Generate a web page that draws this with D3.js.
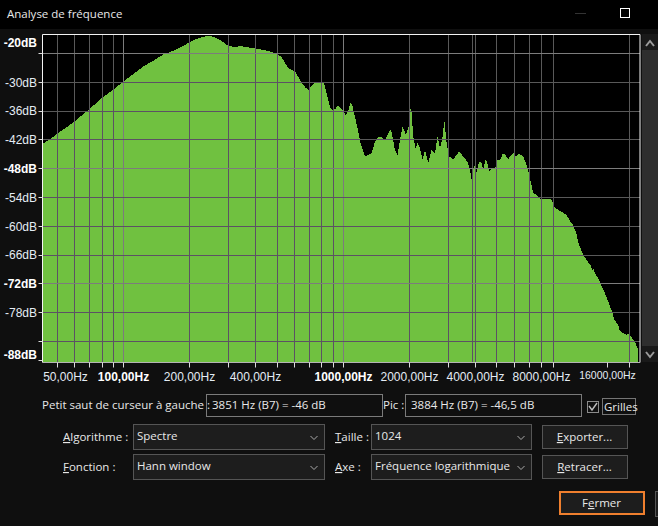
<!DOCTYPE html>
<html><head><meta charset="utf-8">
<script src="https://cdn.jsdelivr.net/npm/d3@7"></script>
<style>
html,body{margin:0;padding:0;background:#0f0f0f;overflow:hidden}
svg{display:block}
text{font-family:"Open Sans","Noto Sans",sans-serif;font-size:11.5px;fill:#e8e8e8}
.ax text{font-family:"Liberation Sans",Arial,sans-serif;font-size:12px;fill:#e4ecf4}
.b{font-weight:bold;fill:#fff!important}
</style></head><body>
<svg id="c" width="658" height="526"></svg>
<script>
const title = "Analyse de fréquence";
const freqHz = [42.9,46.3,49.6,55.1,60.4,65.7,69.9,80.1,89.9,100,110.8,123.1,136.7,151.8,171.5,187.2,202,222.9,243.2,256.3,274.8,299.9,315.8,344.8,376.3,403.6,448.1,497.7,524.4,562.2,603,635.3,669.4,693.3,710.4,735.6,769.7,817,840,870,894,916,949,972,1000,1028,1054,1080,1103,1130,1170,1199,1255,1299,1346,1393,1443,1494,1547,1586,1630,1659,1718,1767,1810,1862,1928,1983,2032,2082,2134,2171,2217,2296,2353,2436,2523,2612,2687,2753,2831,2881,2952,3035,3166,3279,3372,3516,3665,3770,3837,3945,4000,4157,4260,4335,4443,4520,4616,4730,4898,5036,5215,5307,5439,5633,5772,5934,6103,6320,6592,6825,7068,7316,7577,7850,8270,8565,8868,9087,9200,9345,9470,9680,9860,10110,10320,10600,10860,11080,11325,11500,11680,11950,12360,12670,12950,13360,13550,13740,13950,14360,15080,15780,16630,17150,17830,18080,18600,19010,19450,19760,20510,21230,21980];
const levelDb = [-42.8,-41.9,-40.8,-39.4,-38.0,-36.6,-35.6,-33.2,-31.5,-29.8,-28.3,-26.7,-25.5,-24.2,-23.3,-22.4,-21.5,-20.7,-20.3,-20.5,-21.2,-22.4,-22.6,-22.5,-22.8,-23.0,-23.4,-24.0,-24.8,-27.1,-27.7,-29.5,-31.0,-31.6,-31.0,-30.2,-30.1,-30.2,-32.3,-35.2,-35.9,-35.6,-34.8,-35.4,-36.0,-37.0,-35.8,-34.2,-35.1,-37.2,-40.3,-42.7,-45.5,-45.1,-44.8,-42.4,-41.3,-41.5,-42.0,-41.0,-39.9,-40.3,-44.1,-45.1,-42.0,-39.2,-41.0,-39.2,-34.7,-41.3,-43.8,-42.6,-43.4,-46.2,-44.0,-46.9,-44.0,-44.9,-41.2,-43.8,-41.3,-37.8,-42.7,-45.5,-46.0,-45.1,-44.4,-45.5,-46.5,-48.2,-50.3,-47.0,-49.3,-46.5,-46.9,-48.3,-46.0,-46.9,-48.6,-47.8,-48.1,-46.2,-46.0,-44.8,-45.1,-46.0,-45.3,-44.7,-45.5,-44.9,-45.5,-47.2,-50.0,-53.1,-53.5,-54.2,-54.4,-54.2,-54.5,-55.9,-56.2,-56.5,-56.4,-56.8,-57.0,-57.3,-57.6,-58.3,-59.3,-59.7,-60.8,-61.5,-63.2,-64.3,-66.0,-66.7,-67.4,-68.1,-69.3,-68.8,-69.8,-70.7,-72.7,-74.8,-77.6,-79.5,-80.6,-81.7,-82.2,-82.4,-82.6,-82.4,-83.2,-84.0,-85.8,-88.2];
const gridHz = [50,60,70,80,90,100,200,300,400,500,600,700,800,900,1000,2000,3000,4000,5000,6000,7000,8000,9000,20000];
const majorHz = [100,1000];
const cursorHz = [3884];
const xTickHz = [50,60,70,80,90,100,200,300,400,500,600,700,800,900,1000,2000,3000,4000,5000,6000,7000,8000,9000,16000,20000];
const xLabelHz = [50,100,200,400,1000,2000,4000,8000,16000];
const xBoldHz = [100,1000];
const gridDb = [-24,-30,-36,-42,-48,-54,-60,-66,-72,-78,-84];
const majorDb = [-24,-48,-72];
const yLabelDb = [-20,-30,-36,-42,-48,-54,-60,-66,-72,-78,-88];
const yBoldDb = [-20,-48,-72,-88];

const svg = d3.select("#c");
const L=42.5,R=640,T=34.5,B=362.5;
const x = d3.scaleLog().domain([100,1000]).range([123.5,343.3]);
const y = d3.scaleLinear().domain([-24,-84]).range([53.5,341.5]);
const px = v => Math.floor(v)+.5;
const fmtHz = v => d3.format(".2f")(v).replace(".",",")+"Hz";

// window chrome
svg.append("rect").attr("width",658).attr("height",526).attr("fill","#0f0f0f");
svg.append("rect").attr("width",658).attr("height",29).attr("fill","#000");
svg.append("text").attr("x",7).attr("y",18).attr("fill","#e6e6e6").style("font-size","11.5px").text(title);
svg.append("rect").attr("x",620.5).attr("y",8.5).attr("width",9).attr("height",9).attr("fill","none").attr("stroke","#fff");
svg.append("line").attr("x1",575).attr("x2",586).attr("y1",13.5).attr("y2",13.5).attr("stroke","#333");

// plot
svg.append("rect").attr("x",L).attr("y",T).attr("width",R-L).attr("height",B-T).attr("fill","#000");
const points = freqHz.map((f,i)=>[f,levelDb[i]]);
const areaGen = d3.area().x(d=>x(d[0])).y0(B).y1(d=>y(d[1]));
svg.append("clipPath").attr("id","pc").append("rect").attr("x",L).attr("y",T).attr("width",R-L).attr("height",B-T);
svg.append("clipPath").attr("id","ac").append("path").datum(points).attr("d",areaGen);
svg.append("path").datum(points).attr("clip-path","url(#pc)").attr("fill","#70c140")
  .attr("shape-rendering","crispEdges").attr("d",areaGen);
function drawGrid(parent, minor){
  parent.selectAll(".v").data(gridHz.concat(cursorHz)).join("line").attr("class","v")
    .attr("x1",d=>px(x(d))).attr("x2",d=>px(x(d))).attr("y1",T).attr("y2",B)
    .attr("stroke",d=>majorHz.includes(d)?"#7c7c7c":minor);
  parent.selectAll(".h").data(gridDb).join("line").attr("class","h")
    .attr("x1",L).attr("x2",R).attr("y1",d=>px(y(d))).attr("y2",d=>px(y(d)))
    .attr("stroke",d=>majorDb.includes(d)?"#7c7c7c":minor);
}
drawGrid(svg.append("g"),"#595959");
drawGrid(svg.append("g").attr("clip-path","url(#ac)"),"#5c5264");
// frame
svg.append("path").attr("d",`M${L},${B}V${T}H${R}V${B}`).attr("fill","none").attr("stroke","#f4f4f4");
svg.append("line").attr("x1",L).attr("x2",R).attr("y1",B).attr("y2",B).attr("stroke","#b4b4b4");

// x axis
const xa = svg.append("g").attr("class","ax").attr("transform",`translate(0,${B})`)
  .call(d3.axisBottom(x).tickValues(xTickHz).tickSize(5).tickPadding(3)
    .tickFormat(d=>xLabelHz.includes(d)?fmtHz(d):""));
xa.select(".domain").remove();
xa.selectAll(".tick line").attr("stroke","#dcdcdc");
xa.selectAll(".tick").attr("transform",d=>`translate(${px(x(d))},0)`);
xa.selectAll(".tick text").classed("b",d=>xBoldHz.includes(d)).attr("y",9.5)
  .style("font-size",d=>d>=16000?"10.5px":"12px").attr("dy",d=>d>=16000?"0.68em":"0.71em")
  .attr("dx",d=>d===xLabelHz[0]?8:0);

// y axis
const ya = svg.append("g").attr("class","ax").attr("transform",`translate(${L},0)`)
  .call(d3.axisLeft(y).tickValues(gridDb.concat([-88])).tickSize(4).tickFormat(""));
ya.select(".domain").remove();
ya.selectAll(".tick").attr("transform",d=>`translate(0,${px(y(d))})`);
ya.selectAll(".tick line").attr("stroke","#dcdcdc");
svg.append("g").attr("class","ax").selectAll("text").data(yLabelDb).join("text")
  .attr("x",37).attr("y",d=>Math.max(43,Math.min(355,y(d)))).attr("dy","0.36em")
  .attr("text-anchor","end").classed("b",d=>yBoldDb.includes(d)).text(d=>d+"dB");

// scrollbar
svg.append("rect").attr("x",642).attr("y",34).attr("width",16).attr("height",328).attr("fill","#191919");
svg.append("rect").attr("x",642).attr("y",50).attr("width",16).attr("height",296).attr("fill","#2e2e2e");
svg.append("path").attr("d","M646,46L650,41L654,46").attr("fill","none").attr("stroke","#9a9a9a").attr("stroke-width",2);
svg.append("path").attr("d","M646,352L650,357L654,352").attr("fill","none").attr("stroke","#9a9a9a").attr("stroke-width",2);

// controls
function label(tx,ty,pre,u,post){
  const t=svg.append("text").attr("x",tx).attr("y",ty);
  if(pre) t.append("tspan").text(pre);
  if(u) t.append("tspan").style("text-decoration","underline").text(u);
  if(post) t.append("tspan").text(post);
}
function box(x0,y0,w,h,txt,stroke="#6e6e6e",fill="none"){
  svg.append("rect").attr("x",x0+.5).attr("y",y0+.5).attr("width",w).attr("height",h).attr("fill",fill).attr("stroke",stroke);
  if(txt) svg.append("text").attr("x",x0+6).attr("y",y0+15).text(txt);
}
function combo(x0,y0,w,txt){
  box(x0,y0,w,25,"","#555","#1d1d1d");
  svg.append("text").attr("x",x0+4).attr("y",y0+16).text(txt);
  const cx=x0+w-10;
  svg.append("path").attr("d",`M${cx-3.5},${y0+12}L${cx},${y0+15.5}L${cx+3.5},${y0+12}`).attr("fill","none").attr("stroke","#aaa");
}
function button(x0,y0,w,pre,u,post){
  box(x0,y0,w,23,"","#555","#1d1d1d");
  const t=svg.append("text").attr("x",x0+w/2).attr("y",y0+16).attr("text-anchor","middle");
  if(pre) t.append("tspan").text(pre);
  t.append("tspan").style("text-decoration","underline").text(u);
  t.append("tspan").text(post);
}
label(42,409,"Petit saut de curseur à gauche :");
box(206,394,176,22,"","#7a7a7a");
svg.append("text").attr("x",212).attr("y",409).text("3851 Hz (B7) = -46 dB");
label(383,409,"Pic :");
box(405,394,176,22,"","#7a7a7a");
svg.append("text").attr("x",411).attr("y",409).text("3884 Hz (B7) = -46,5 dB");
box(587,401,11,11,"","#8a8a8a");
svg.append("path").attr("d","M589,406L592,410L597,403").attr("fill","none").attr("stroke","#bbb").attr("stroke-width",1.4);
svg.append("rect").attr("x",602.5).attr("y",398.5).attr("width",33).attr("height",16).attr("fill","none").attr("stroke","#ddd").attr("stroke-dasharray","1,1");
label(604,411,"Grilles");
label(63,441,"","A","lgorithme :");
label(63,471,"","F","onction :");
label(335,441,"","T","aille :");
label(335,471,"","A","xe :");
combo(133,424,191,"Spectre");
combo(133,454,191,"Hann window");
combo(371,424,160,"1024");
combo(371,454,160,"Fréquence logarithmique");
button(542,425,85,"","E","xporter...");
button(542,455,85,"","R","etracer...");
svg.append("rect").attr("x",560).attr("y",492).attr("width",84).attr("height",22).attr("fill","#1d1d1d").attr("stroke","#ef7f2e").attr("stroke-width",2);
const ft=svg.append("text").attr("x",601.5).attr("y",507).attr("text-anchor","middle");
ft.append("tspan").text("F");ft.append("tspan").style("text-decoration","underline").text("e");ft.append("tspan").text("rmer");
svg.append("rect").attr("x",655.5).attr("y",491.5).attr("width",10).attr("height",25).attr("fill","#1d1d1d").attr("stroke","#555");
</script>
</body></html>
